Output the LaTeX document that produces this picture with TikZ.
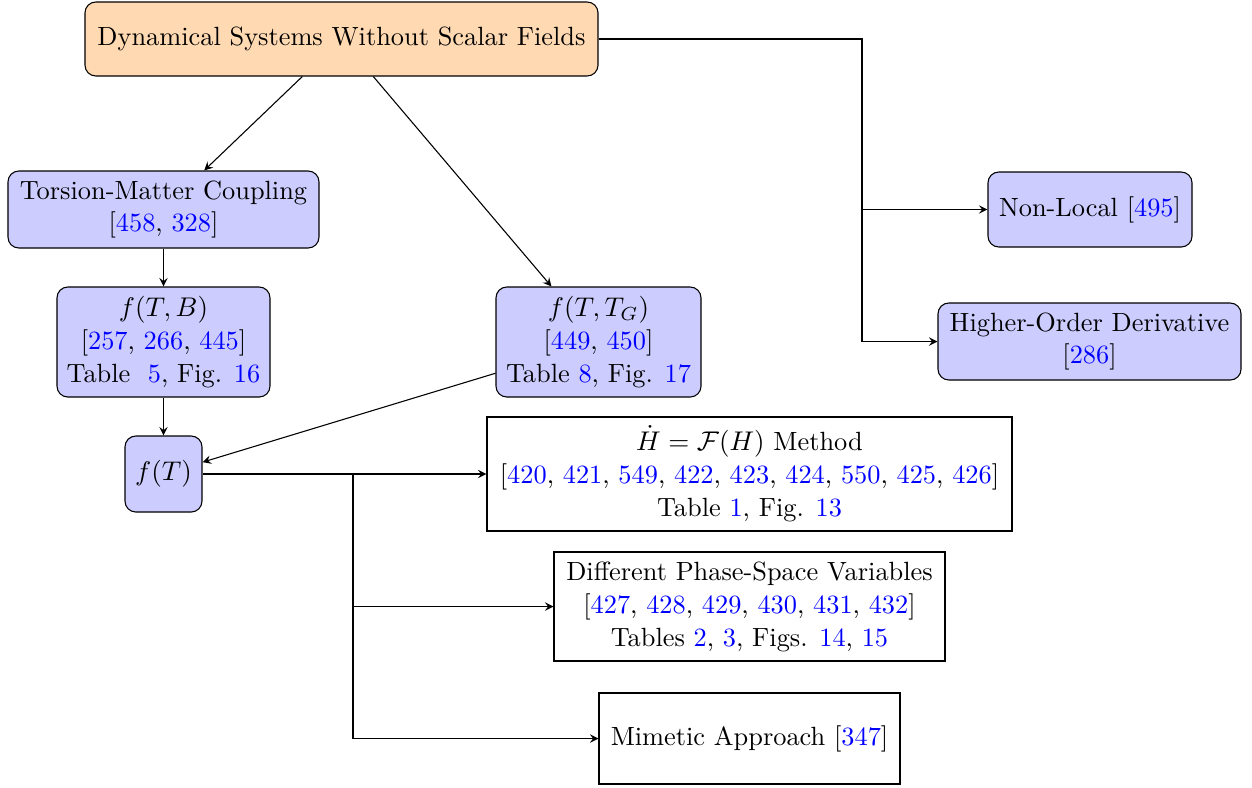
\documentclass[tikz,border=0pt]{standalone}
\usetikzlibrary{arrows}
\newcommand{\cb}[1]{\textcolor{blue}{#1}}
\begin{document}
\begin{tikzpicture}[x=0.37pt,y=-0.37pt,
  every node/.style={font=\fontsize{9.75pt}{12.2pt}\selectfont},
  box/.style={draw, rectangle, align=center, inner sep=0pt},
  rbox/.style={box, rounded corners, fill=blue!20},
  arr/.style={-stealth}]
\useasboundingbox (0,0) rectangle (1252,787);
\node[box, rounded corners, fill=orange!30, minimum width=189.81pt, minimum height=27.38pt] (top) at (341.5,39) {Dynamical Systems Without Scalar Fields};
\node[rbox, minimum width=115.07pt, minimum height=28.49pt] (tmc) at (163.5,209.5) {Torsion-Matter Coupling\\{}[\cb{458}, \cb{328}]};
\node[rbox, minimum width=78.81pt, minimum height=40.7pt] (ftb) at (163.5,342) {$f(T,B)$\\{}[\cb{257}, \cb{266}, \cb{445}]\\Table~ \cb{5}, Fig. \cb{16}};
\node[rbox, minimum width=75.85pt, minimum height=40.7pt] (ftg) at (598.5,342) {$f(T,T_G)$\\{}[\cb{449}, \cb{450}]\\Table \cb{8}, Fig. \cb{17}};
\node[rbox, minimum width=28.49pt, minimum height=28.12pt] (ft) at (163.5,474) {$f(T)$};
\node[box, minimum width=194.25pt, minimum height=42.18pt] (hm) at (749.5,474) {$\dot{H}=\mathcal{F}(H)$ Method\\{}[\cb{420}, \cb{421}, \cb{549}, \cb{422}, \cb{423}, \cb{424}, \cb{550}, \cb{425}, \cb{426}]\\Table \cb{1}, Fig. \cb{13}};
\node[box, minimum width=144.67pt, minimum height=40.33pt] (dps) at (749.5,606.5) {Different Phase-Space Variables\\{}[\cb{427}, \cb{428}, \cb{429}, \cb{430}, \cb{431}, \cb{432}]\\Tables \cb{2}, \cb{3}, Figs. \cb{14}, \cb{15}};
\node[box, minimum width=111.37pt, minimum height=33.67pt] (mim) at (749.5,738.5) {Mimetic Approach [\cb{347}]};
\node[rbox, minimum width=75.48pt, minimum height=27.75pt] (nl) at (1090,209.5) {Non-Local [\cb{495}]};
\node[rbox, minimum width=112.11pt, minimum height=28.49pt] (hod) at (1089.5,341.5) {Higher-Order Derivative\\{}[\cb{286}]};
\coordinate (jr) at (862,0);
\coordinate (jb) at (353,0);
\draw[arr] (top) -- (tmc);
\draw[arr] (top) -- (ftg);
\draw[arr] (tmc) -- (ftb);
\draw[arr] (ftb) -- (ft);
\draw[arr] (ftg) -- (ft);
\draw[arr] (top.east) -| (jr |- hod.west) -- (hod.west);
\draw[arr] (jr |- nl.west) -- (nl.west);
\draw[arr] (ft.east) -- (hm.west);
\draw[arr] (jb |- ft.east) |- (mim.west);
\draw[arr] (jb |- dps.west) -- (dps.west);
\end{tikzpicture}
\end{document}
